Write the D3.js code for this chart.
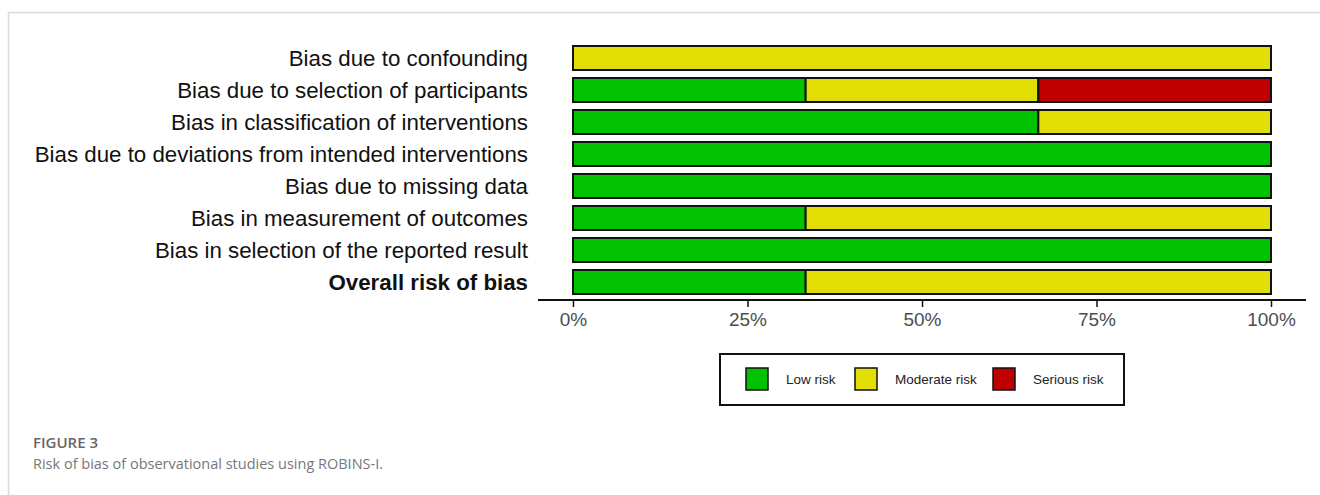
<!DOCTYPE html>
<html lang="en">
<head>
<meta charset="utf-8">
<title>Risk of bias - ROBINS-I</title>
<script src="https://d3js.org/d3.v7.min.js"></script>
<style>
  body { margin: 0; background: #fff; }
</style>
</head>
<body>
<svg width="1320" height="495"></svg>
<script>
// domains, top to bottom
const domains = [
  "Bias due to confounding",
  "Bias due to selection of participants",
  "Bias in classification of interventions",
  "Bias due to deviations from intended interventions",
  "Bias due to missing data",
  "Bias in measurement of outcomes",
  "Bias in selection of the reported result",
  "Overall risk of bias"
];
// number of studies (out of 3) per judgement
const lowRisk      = [0, 1, 2, 3, 3, 1, 3, 1];
const moderateRisk = [3, 1, 1, 0, 0, 2, 0, 2];
const seriousRisk  = [0, 1, 0, 0, 0, 0, 0, 0];
const levels = ["Low risk", "Moderate risk", "Serious risk"];
const colours = ["#02C100", "#E2DF07", "#BF0000"];
const tickValues = [0, 0.25, 0.5, 0.75, 1];

const svg = d3.select("svg");

// figure frame
svg.append("path")
  .attr("d", "M8.5,495 V12.5 H1320")
  .attr("fill", "none")
  .attr("stroke", "#d9d9d9")
  .attr("stroke-width", 1.5);

const x = d3.scaleLinear().domain([0, 1]).range([573, 1271]);
const y = d3.scaleBand().domain(domains).range([42, 298]).paddingInner(0.25).paddingOuter(0.125);

const rows = domains.map((d, i) => {
  const n = lowRisk[i] + moderateRisk[i] + seriousRisk[i];
  const vals = [lowRisk[i], moderateRisk[i], seriousRisk[i]];
  let acc = 0;
  return vals.map((v, k) => {
    const seg = { domain: d, level: k, x0: acc / n, x1: (acc + v) / n };
    acc += v;
    return seg;
  }).filter(s => s.x1 > s.x0);
});

svg.append("g")
  .selectAll("rect")
  .data(rows.flat())
  .join("rect")
  .attr("x", d => x(d.x0))
  .attr("y", d => y(d.domain))
  .attr("width", d => x(d.x1) - x(d.x0))
  .attr("height", y.bandwidth())
  .attr("fill", d => colours[d.level])
  .attr("stroke", "#111")
  .attr("stroke-width", 2);

// domain labels
svg.append("g")
  .selectAll("text")
  .data(domains)
  .join("text")
  .attr("x", 528)
  .attr("y", d => y(d) + y.bandwidth() / 2)
  .attr("dy", "0.36em")
  .attr("text-anchor", "end")
  .attr("font-family", "'Liberation Sans', Arial, sans-serif")
  .attr("font-size", 22.3)
  .attr("font-weight", (d, i) => i === domains.length - 1 ? "bold" : "normal")
  .attr("fill", "#111")
  .text(d => d);

// x axis
const axisG = svg.append("g").attr("transform", "translate(0,300)");
axisG.append("line")
  .attr("x1", 538).attr("x2", 1306)
  .attr("stroke", "#111").attr("stroke-width", 2);
axisG.call(d3.axisBottom(x).tickValues(tickValues).tickFormat(d3.format(".0%")).tickSize(7).tickPadding(6))
  .call(g => g.select(".domain").remove())
  .call(g => g.selectAll(".tick line").attr("stroke", "#111").attr("stroke-width", 1.5))
  .call(g => g.selectAll(".tick text")
    .attr("font-family", "'Liberation Sans', Arial, sans-serif")
    .attr("font-size", 19)
    .attr("fill", "#4d4d4d"));

// legend
const legend = svg.append("g");
legend.append("rect")
  .attr("x", 720).attr("y", 354)
  .attr("width", 404).attr("height", 51)
  .attr("fill", "#fff").attr("stroke", "#111").attr("stroke-width", 2);
const legendX = [746, 855, 993];
const item = legend.selectAll("g.item")
  .data(levels)
  .join("g")
  .attr("class", "item")
  .attr("transform", (d, i) => `translate(${legendX[i]},368)`);
item.append("rect")
  .attr("width", 22).attr("height", 22)
  .attr("fill", (d, i) => colours[i])
  .attr("stroke", "#111").attr("stroke-width", 1.5);
item.append("text")
  .attr("x", 40).attr("y", 11).attr("dy", "0.35em")
  .attr("font-family", "'Liberation Sans', Arial, sans-serif")
  .attr("font-size", 13.5)
  .attr("fill", "#222")
  .text(d => d);

// caption
svg.append("text")
  .attr("x", 33).attr("y", 448)
  .attr("font-family", "'Open Sans', sans-serif")
  .attr("font-size", 15)
  .attr("font-weight", 600)
  .attr("fill", "#666")
  .text("FIGURE 3");
svg.append("text")
  .attr("x", 33).attr("y", 469)
  .attr("font-family", "'Open Sans', sans-serif")
  .attr("font-size", 14.5)
  .attr("fill", "#777")
  .text("Risk of bias of observational studies using ROBINS-I.");
</script>
</body>
</html>
